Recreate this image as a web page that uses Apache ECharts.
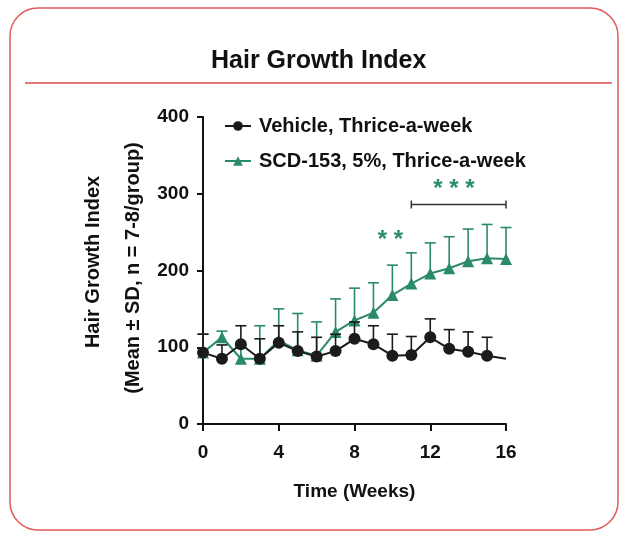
<!DOCTYPE html>
<html>
<head>
<meta charset="utf-8">
<script src="https://cdn.jsdelivr.net/npm/echarts@6/dist/echarts.min.js"></script>
<style>
html,body{margin:0;padding:0;background:#fff;}
#chart{width:621px;height:534px;}
</style>
</head>
<body>
<div id="chart"></div>
<script>
// ---- data ----
const weeks = [0,1,2,3,4,5,6,7,8,9,10,11,12,13,14,15,16];
const vehicleMean = [93,85,104,85,106,95,88,95,111,104,89,90,113,98,94,89,85];
const vehicleSD   = [24,18,24,26,22,25,25,22,22,24,28,24,24,25,26,24,null];
const scdMean = [93,113,85,85,109,96,89,120,135,145,168,183,196,203,212,216,215];
const scdSD   = [24,8,14,43,41,48,44,43,42,39,39,40,40,41,42,44,41];
const xTicks = [0,4,8,12,16];
const yTicks = [0,100,200,300,400];
const seriesNames = ['Vehicle, Thrice-a-week','SCD-153, 5%, Thrice-a-week'];
const sigLabels = ['* *','* * *'];
const sigWeek = [9.9, 13.25];
const sigValue = [247, 314];
const bracketStart = 11, bracketEnd = 16, bracketValue = 286;

const BLACK = '#1b1b1b';
const GREEN = '#2a8a6c';
const FONT = '"Liberation Sans", Arial, sans-serif';

function pts(means, lastNoSymbol){
  return weeks.map((w,i)=>{
    if (lastNoSymbol && i === weeks.length-1) return {value:[w,means[i]], symbolSize:0};
    return [w, means[i]];
  });
}
function errData(means, sds){
  return weeks.map((w,i)=>[w, means[i], sds[i]]);
}
function errRender(color){
  return function(params, api){
    const sd = api.value(2);
    if (sd === null || isNaN(sd)) return null;
    const x = api.value(0), m = api.value(1);
    const p0 = api.coord([x, m]);
    const p1 = api.coord([x, m + sd]);
    const hw = 5.5;
    return {type:'group', children:[
      {type:'line', shape:{x1:p0[0],y1:p0[1],x2:p1[0],y2:p1[1]}, style:{stroke:color,lineWidth:1.6}},
      {type:'line', shape:{x1:p1[0]-hw,y1:p1[1],x2:p1[0]+hw,y2:p1[1]}, style:{stroke:color,lineWidth:1.6}}
    ]};
  };
}

const chart = echarts.init(document.getElementById('chart'), null, {renderer:'canvas'});
const option = {
  backgroundColor:'#ffffff',
  animation:false,
  title:{
    text:'Hair Growth Index',
    left:206, top:44,
    textStyle:{fontFamily:FONT,fontSize:25,fontWeight:'bold',color:'#111'}
  },
  graphic:[
    {type:'rect', shape:{x:10,y:8,width:608,height:522,r:28}, style:{fill:'none',stroke:'#e05a5a',lineWidth:1.5}, silent:true},
    {type:'line', shape:{x1:25,y1:83,x2:612,y2:83}, style:{stroke:'#e04a4a',lineWidth:1.5}, silent:true},
    {type:'text', x:93, y:262, rotation:Math.PI/2, style:{text:'Hair Growth Index', fontFamily:FONT, fontSize:20, fontWeight:'bold', fill:'#111', align:'center', verticalAlign:'middle'}},
    {type:'text', x:133, y:268, rotation:Math.PI/2, style:{text:'(Mean \u00b1 SD, n = 7-8/group)', fontFamily:FONT, fontSize:20, fontWeight:'bold', fill:'#111', align:'center', verticalAlign:'middle'}}
  ],
  legend:{
    orient:'vertical', left:219, top:111, itemGap:15,
    itemWidth:26, itemHeight:12,
    data:seriesNames,
    textStyle:{fontFamily:FONT,fontSize:20,fontWeight:'bold',color:'#111',padding:[0,0,0,3]}
  },
  grid:{left:203, right:115, top:117, bottom:110},
  xAxis:{
    type:'value', min:0, max:16, interval:4,
    axisLine:{lineStyle:{color:'#111',width:2}},
    axisTick:{length:7,lineStyle:{color:'#111',width:2}},
    axisLabel:{fontFamily:FONT,fontSize:19,fontWeight:'bold',color:'#111',margin:19,
      formatter:v=>xTicks.includes(v)?String(v):''},
    splitLine:{show:false},
    name:'Time (Weeks)', nameLocation:'middle', nameGap:58,
    nameTextStyle:{fontFamily:FONT,fontSize:19,fontWeight:'bold',color:'#111'}
  },
  yAxis:{
    type:'value', min:0, max:400, interval:100,
    axisLine:{show:true,lineStyle:{color:'#111',width:2}},
    axisTick:{show:true,length:6,lineStyle:{color:'#111',width:2}},
    axisLabel:{fontFamily:FONT,fontSize:19,fontWeight:'bold',color:'#111',margin:14,
      formatter:v=>yTicks.includes(v)?String(v):''},
    splitLine:{show:false}
  },
  series:[
    {
      type:'custom', name:'scdErr', renderItem:errRender(GREEN),
      data:errData(scdMean, scdSD), z:2, silent:true
    },
    {
      type:'line', name:seriesNames[1], data:pts(scdMean,false),
      symbol:'triangle', symbolSize:12, color:GREEN,
      lineStyle:{color:GREEN,width:2}, itemStyle:{color:GREEN}, z:3
    },
    {
      type:'custom', name:'vehErr', renderItem:errRender(BLACK),
      data:errData(vehicleMean, vehicleSD), z:4, silent:true
    },
    {
      type:'line', name:seriesNames[0], data:pts(vehicleMean,true),
      symbol:'circle', symbolSize:12, color:BLACK,
      lineStyle:{color:BLACK,width:2}, itemStyle:{color:BLACK}, z:5
    },
    {
      type:'custom', name:'sig', silent:true, z:6,
      data:sigLabels.map((t,i)=>[sigWeek[i], sigValue[i], i]),
      renderItem:function(params, api){
        const p = api.coord([api.value(0), api.value(1)]);
        const idx = api.value(2);
        return {type:'text', x:p[0], y:p[1]+6, style:{text:sigLabels[idx], fontFamily:FONT, fontSize:24, fontWeight:'bold', fill:GREEN, align:'center', verticalAlign:'middle'}};
      }
    },
    {
      type:'custom', name:'bracket', silent:true, z:6,
      data:[[bracketStart, bracketEnd, bracketValue]],
      renderItem:function(params, api){
        const a = api.coord([api.value(0), api.value(2)]);
        const b = api.coord([api.value(1), api.value(2)]);
        return {type:'group', children:[
          {type:'line', shape:{x1:a[0],y1:a[1],x2:b[0],y2:b[1]}, style:{stroke:'#333',lineWidth:1.5}},
          {type:'line', shape:{x1:a[0],y1:a[1]-4,x2:a[0],y2:a[1]+4}, style:{stroke:'#333',lineWidth:1.5}},
          {type:'line', shape:{x1:b[0],y1:b[1]-4,x2:b[0],y2:b[1]+4}, style:{stroke:'#333',lineWidth:1.5}}
        ]};
      }
    }
  ]
};
chart.setOption(option);
</script>
</body>
</html>
